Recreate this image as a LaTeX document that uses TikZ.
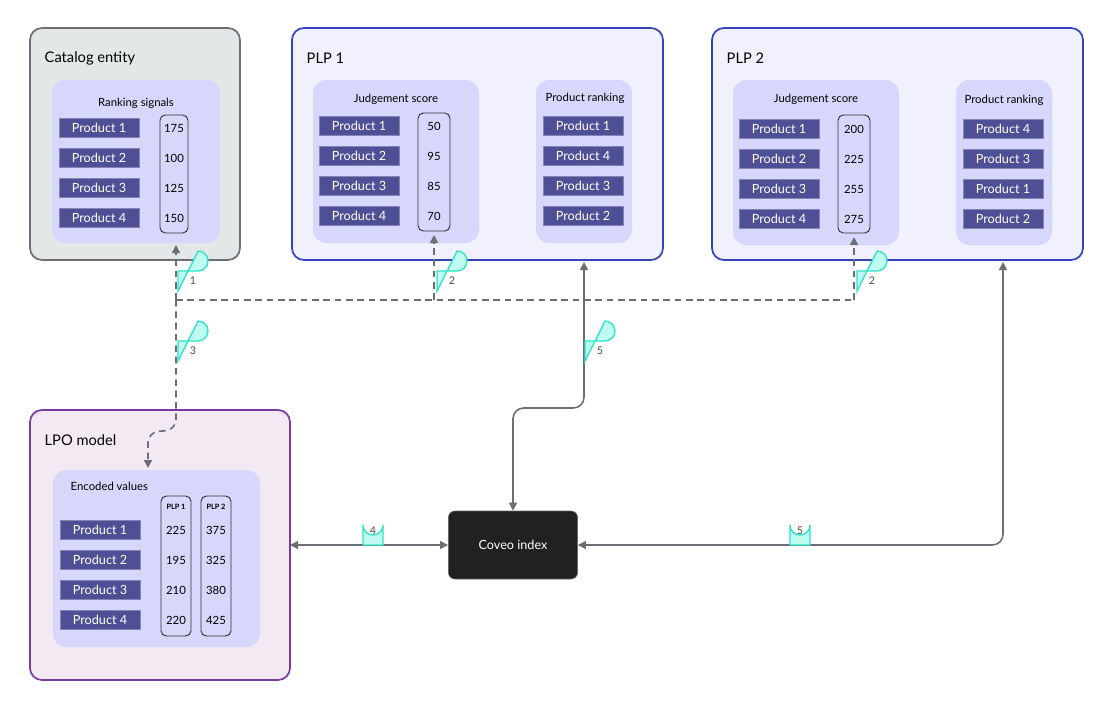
\documentclass[tikz,border=0pt]{standalone}
\usepackage{fontspec}
\setmainfont{Lato}
\usetikzlibrary{arrows.meta, positioning}
\definecolor{prodfill}{HTML}{4F4F96}
\definecolor{innerfill}{HTML}{D6D7FA}
\definecolor{plpfill}{HTML}{F1F1FE}
\definecolor{plpdraw}{HTML}{3542BA}
\definecolor{catfill}{HTML}{E4E7E8}
\definecolor{catdraw}{HTML}{6B6F75}
\definecolor{lpofill}{HTML}{F2E9F2}
\definecolor{lpodraw}{HTML}{7A3AA0}
\definecolor{tagfill}{HTML}{BFFBF0}
\definecolor{tagdraw}{HTML}{2DE3C8}
\definecolor{wire}{HTML}{6B6F75}

\begin{document}
\begin{tikzpicture}[x=0.75pt, y=-0.75pt,
    frame/.style={rounded corners=9pt, line width=1.3pt},
    inner/.style={fill=innerfill, rounded corners=10pt},
    title/.style={anchor=west, font=\fontsize{11}{13}\selectfont},
    caption/.style={font=\fontsize{8.5}{10}\selectfont},
    prod/.style={fill=prodfill, draw=prodfill!70!white, text=white, minimum width=60pt, minimum height=14pt, inner sep=0pt, font=\fontsize{9.5}{11}\selectfont},
    col/.style={draw=black!80, rounded corners=4pt, line width=0.7pt},
    val/.style={font=\fontsize{8.5}{10}\selectfont},
    tag/.style={fill=tagfill, draw=tagdraw, line width=1pt},
    tagtext/.style={font=\fontsize{8}{9}\selectfont, text=black!70},
    dashline/.style={draw=wire, line width=1.2pt, dash pattern=on 5pt off 3.5pt},
    flowdash/.style={dashline, -{Triangle[width=6pt,length=6pt]}},
    link/.style={draw=wire, line width=1.2pt, {Triangle[width=6pt,length=6pt]}-{Triangle[width=6pt,length=6pt]}}]
    \useasboundingbox (0,0) rectangle (1110,700);

    % Catalog entity
    \draw[frame, fill=catfill, draw=catdraw] (30,28) rectangle (240,260);
    \node[title] (catT) at (40,58) {Catalog entity};
    \fill[inner] (52,80) rectangle (220,243);
    \node[caption] (catC) at (136,103) {Ranking signals};
    \draw[col] (160,115) rectangle (188,233);
    \foreach \v [count=\i] in {175,100,125,150} {
        \node[prod] (catP\i) at (99,98+30*\i) {Product \i};
        \node[val] (catV\i) at (174,98+30*\i) {\v};
    }

    % PLP 1
    \draw[frame, fill=plpfill, draw=plpdraw] (292,28) rectangle (663,260);
    \node[title] (p1T) at (302,58) {PLP 1};
    \fill[inner] (313,80) rectangle (479,243);
    \fill[inner] (536,80) rectangle (632,243);
    \node[caption] (p1C) at (396,99) {Judgement score};
    \node[caption] (p1R) at (585,98) {Product ranking};
    \draw[col] (418,113) rectangle (450,231);
    \foreach \v/\r [count=\i] in {50/1,95/4,85/3,70/2} {
        \node[prod] (p1P\i) at (359,96+30*\i) {Product \i};
        \node[val] (p1V\i) at (434,96+30*\i) {\v};
        \node[prod] (p1Q\i) at (583,96+30*\i) {Product \r};
    }

    % PLP 2
    \draw[frame, fill=plpfill, draw=plpdraw] (712,28) rectangle (1083,260);
    \node[title] (p2T) at (722,58) {PLP 2};
    \fill[inner] (733,80) rectangle (899,245);
    \fill[inner] (956,80) rectangle (1052,245);
    \node[caption] (p2C) at (816,99) {Judgement score};
    \node[caption] (p2R) at (1004,100) {Product ranking};
    \draw[col] (838,115) rectangle (870,233);
    \foreach \v/\r [count=\i] in {200/4,225/3,255/1,275/2} {
        \node[prod] (p2P\i) at (779,99+30*\i) {Product \i};
        \node[val] (p2V\i) at (854,99+30*\i) {\v};
        \node[prod] (p2Q\i) at (1003,99+30*\i) {Product \r};
    }

    % LPO model
    \draw[frame, fill=lpofill, draw=lpodraw] (30,410) rectangle (290,680);
    \node[title] (lpoT) at (40,440) {LPO model};
    \fill[inner] (53,470) rectangle (260,647);
    \node[caption, anchor=west] (lpoC) at (66,486) {Encoded values};
    \draw[col] (161,496) rectangle (191,636);
    \draw[col] (201,496) rectangle (231,636);
    \node[font=\fontsize{5.5}{6}\bfseries] (h1) at (176,507) {PLP 1};
    \node[font=\fontsize{5.5}{6}\bfseries] (h2) at (216,507) {PLP 2};
    \foreach \a/\b [count=\i] in {225/375,195/325,210/380,220/425} {
        \node[prod] (lpoP\i) at (100,500+30*\i) {Product \i};
        \node[val] (lpoA\i) at (176,500+30*\i) {\a};
        \node[val] (lpoB\i) at (216,500+30*\i) {\b};
    }

    % Coveo index
    \node[fill=black!87, draw=black!60, rounded corners=5pt, minimum width=97pt, minimum height=51pt, text=white, font=\fontsize{9.5}{11}\selectfont] (coveo) at (513,545) {Coveo index};

    % dashed flows 1, 2, 3
    \coordinate (j1) at (176,300);
    \coordinate (j2) at (434,300);
    \coordinate (j3) at (854,300);
    \draw[flowdash] (j1) -- (176,245);
    \draw[flowdash] (j2) -- (434,235);
    \draw[flowdash] (j3) -- (854,237);
    \draw[dashline] (j1) -- (j3);
    \draw[flowdash, rounded corners=8pt] (j1) -- (176,430) -- (148,432) -- (148,468);

    % solid flows 4, 5
    \draw[link] (290,545) -- (coveo.west);
    \draw[link, rounded corners=8pt] (584,262) -- (584,408) -- (513,408) -- (coveo.north);
    \draw[link, rounded corners=8pt] (1003,262) -- (1003,545) -- (coveo.east);

    % step tags
    \foreach \x/\y/\t in {178/281/1, 437/281/2, 857/281/2, 178/351/3, 585/351/5} {
        \draw[tag] (\x,\y-10) -- (\x+20,\y-10) arc (90:-90:10) -- (\x,\y+10) -- cycle;
        \node[tagtext] at (\x+15,\y) {\t};
    }
    \foreach \x/\y/\t in {373/545/4, 800/545/5} {
        \draw[tag] (\x-10,\y) -- (\x-10,\y-20) arc (180:0:10) -- (\x+10,\y) -- cycle;
        \node[tagtext] at (\x,\y-14) {\t};
    }
\end{tikzpicture}
\end{document}
